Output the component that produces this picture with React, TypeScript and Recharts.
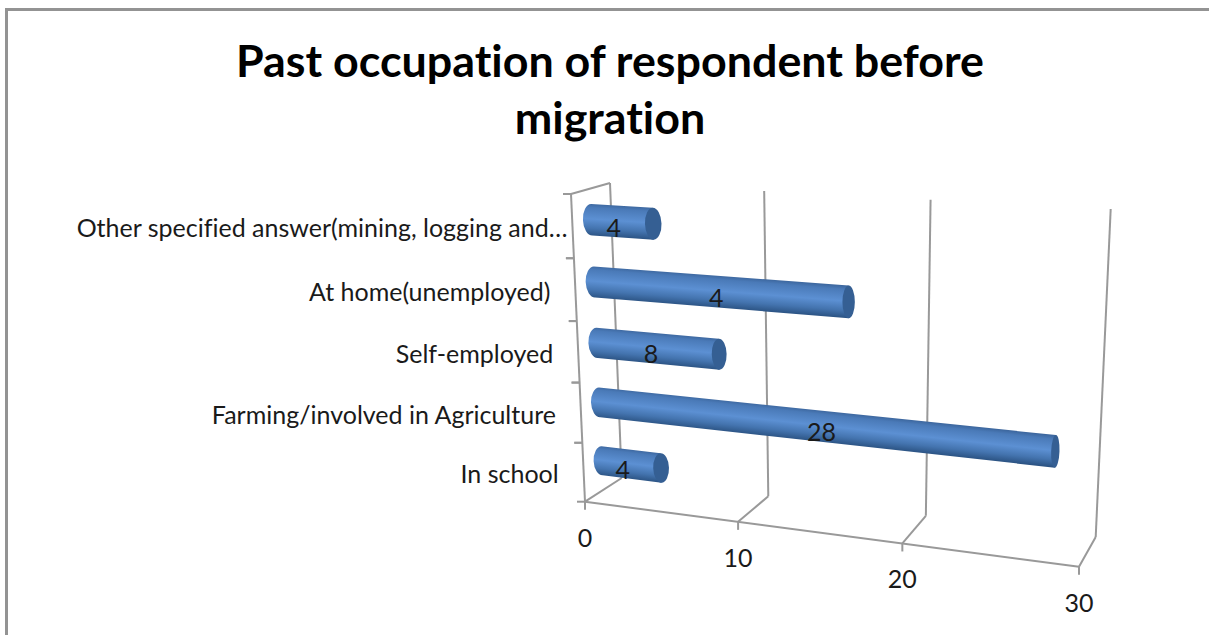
import { BarChart, Bar, XAxis, YAxis, CartesianGrid, LabelList } from "recharts";

const categories = [
  "In school",
  "Farming/involved in Agriculture",
  "Self-employed",
  "At home(unemployed)",
  "Other specified answer(mining, logging and…",
];
const barValues = [4, 28, 8, 16, 4];
// the source picture prints 4 on the At home bar, kept as drawn
const barLabels = [4, 28, 8, 4, 4];
const valueTicks = [0, 10, 20, 30];

const data = categories.map((name, i) => ({ name, value: barValues[i], label: barLabels[i] }));

const W = 1209;
const H = 635;
const FONT = "Lato, 'Open Sans', sans-serif";
const LINE = "#999999";

// plot rectangle the library scales work in, later folded into the 3D box
const LEFT = 585;
const TOP = 194;
const PLOT_W = 495;
const PLOT_H = 308;

type P = [number, number];

// corners: value 0 top, value 30 top, value 30 bottom, value 0 bottom
const FRONT: P[] = [[571, 194], [1094, 226], [1079, 566.7], [585, 501.7]];
const BACK: P[] = [[610, 183], [1110.7, 209], [1095.7, 537], [621.7, 478]];

function homography(q: P[]) {
  const [[x0, y0], [x1, y1], [x2, y2], [x3, y3]] = q;
  const dx1 = x1 - x2, dx2 = x3 - x2, sx = x0 - x1 + x2 - x3;
  const dy1 = y1 - y2, dy2 = y3 - y2, sy = y0 - y1 + y2 - y3;
  const den = dx1 * dy2 - dx2 * dy1;
  const g = (sx * dy2 - dx2 * sy) / den;
  const h = (dx1 * sy - sx * dy1) / den;
  return (u: number, v: number): P => {
    const w = g * u + h * v + 1;
    return [
      ((x1 - x0 + g * x1) * u + (x3 - x0 + h * x3) * v + x0) / w,
      ((y1 - y0 + g * y1) * u + (y3 - y0 + h * y3) * v + y0) / w,
    ];
  };
}

const frontMap = homography(FRONT);
const backMap = homography(BACK);

// px, py are chart pixels from the recharts scales, depth 0 = front, 1 = back
function project(px: number, py: number, depth: number): P {
  const u = (px - LEFT) / PLOT_W;
  const v = (py - TOP) / PLOT_H;
  const f = frontMap(u, v);
  const b = backMap(u, v);
  return [f[0] + (b[0] - f[0]) * depth, f[1] + (b[1] - f[1]) * depth];
}

function seg(a: P, b: P) {
  return <line x1={a[0]} y1={a[1]} x2={b[0]} y2={b[1]} stroke={LINE} strokeWidth={2} />;
}

function wallLine(props: any) {
  const x = props.x1;
  const bottom = TOP + PLOT_H;
  return (
    <g key={`wall-${x}`}>
      {seg(project(x, bottom, 0), project(x, bottom, 1))}
      {seg(project(x, bottom, 1), project(x, TOP, 1))}
    </g>
  );
}

function CylinderBar(props: any) {
  const { x, y, width, height, index } = props;
  const ym = y + height / 2;
  const tl = project(x, y, 0.5);
  const bl = project(x, y + height, 0.5);
  const tr = project(x + width, y, 0.5);
  const br = project(x + width, y + height, 0.5);
  const radius = (px: number) => {
    const f = project(px, ym, 0);
    const b = project(px, ym, 1);
    return Math.abs(b[0] - f[0]) * 0.23;
  };
  const rot = (a: P, b: P) => (Math.atan2(b[1] - a[1], b[0] - a[0]) * 180) / Math.PI - 90;
  const dist = (a: P, b: P) => Math.hypot(b[0] - a[0], b[1] - a[1]);
  const id = `cyl-${index}`;
  const startC: P = [(tl[0] + bl[0]) / 2, (tl[1] + bl[1]) / 2];
  const endC: P = [(tr[0] + br[0]) / 2, (tr[1] + br[1]) / 2];
  const rx0 = radius(x);
  const rx1 = radius(x + width);
  const ry0 = dist(tl, bl) / 2;
  const ry1 = dist(tr, br) / 2;
  // shading runs across the cylinder, square to its own axis
  const len = dist(startC, endC);
  const nx = -(endC[1] - startC[1]) / len;
  const ny = (endC[0] - startC[0]) / len;
  const half = (ry0 + ry1) / 2 + 1;
  const cx = (startC[0] + endC[0]) / 2;
  const cy = (startC[1] + endC[1]) / 2;
  return (
    <g>
      <defs>
        <linearGradient
          id={id}
          gradientUnits="userSpaceOnUse"
          x1={cx - nx * half}
          y1={cy - ny * half}
          x2={cx + nx * half}
          y2={cy + ny * half}
        >
          <stop offset="0" stopColor="#3a6399" />
          <stop offset="0.14" stopColor="#4a7ab8" />
          <stop offset="0.48" stopColor="#5c90d3" />
          <stop offset="0.75" stopColor="#4474af" />
          <stop offset="1" stopColor="#29507f" />
        </linearGradient>
      </defs>
      <path
        d={`M${tl[0]},${tl[1]} L${tr[0]},${tr[1]} L${br[0]},${br[1]} L${bl[0]},${bl[1]} A${rx0},${ry0} ${rot(tl, bl)} 0 1 ${tl[0]},${tl[1]} Z`}
        fill={`url(#${id})`}
      />
      <ellipse
        cx={endC[0]}
        cy={endC[1]}
        rx={rx1}
        ry={ry1}
        transform={`rotate(${rot(tr, br)} ${endC[0]} ${endC[1]})`}
        fill="#355f93"
      />
    </g>
  );
}

function BarText(props: any) {
  const { x, y, width, height, value } = props;
  const c = project(x + width / 2, y + height / 2, 0.5);
  return (
    <text x={c[0] + width * 0.036 - 11} y={c[1] + 15} textAnchor="middle" fontFamily={FONT} fontSize={25} fill="#1a1a1a">
      {value}
    </text>
  );
}

function ValueTick(props: any) {
  const { x, payload } = props;
  const bottom = TOP + PLOT_H;
  const p = project(x, bottom, 0);
  return (
    <g>
      {payload.value === 0 && seg(project(LEFT, bottom, 0), project(LEFT + PLOT_W, bottom, 0))}
      {seg(p, [p[0], p[1] + 8])}
      <text x={p[0]} y={p[1] + 45} textAnchor="middle" fontFamily={FONT} fontSize={25} fill="#1a1a1a">
        {payload.value}
      </text>
    </g>
  );
}

function CategoryTick(props: any) {
  const { y, payload, index } = props;
  const band = PLOT_H / categories.length;
  const low = project(LEFT, y + band / 2, 0);
  const high = project(LEFT, y - band / 2, 0);
  const mid = project(LEFT, y, 0);
  const trimmed = String(payload.value).endsWith("…");
  return (
    <g>
      {index === 0 && (
        <g>
          {seg(project(LEFT, TOP, 0), project(LEFT, TOP + PLOT_H, 0))}
          {seg(project(LEFT, TOP, 0), project(LEFT, TOP, 1))}
        </g>
      )}
      {seg([low[0] - 8, low[1]], low)}
      {seg([high[0] - 8, high[1]], high)}
      <text
        x={mid[0] - (trimmed ? 5 : 25)}
        y={mid[1] + 11}
        textAnchor="end"
        fontFamily={FONT}
        fontSize={25}
        fill="#1a1a1a"
        style={{ fontVariantLigatures: "none" }}
      >
        {payload.value}
      </text>
    </g>
  );
}

const titleStyle: React.CSSProperties = {
  position: "absolute",
  left: 6,
  top: 32,
  width: 1208,
  textAlign: "center",
  fontFamily: FONT,
  fontWeight: 700,
  fontSize: 44.8,
  lineHeight: "57px",
  color: "#000",
  fontVariantLigatures: "none",
};

export default function App() {
  return (
    <div style={{ position: "absolute", left: 0, top: 0, width: W, height: H, overflow: "hidden", background: "#fff" }}>
      {/* the frame is cut off by the picture on the right and at the bottom */}
      <div
        style={{
          position: "absolute",
          left: 5,
          top: 8,
          width: 1300,
          height: 700,
          border: "3px solid #939393",
          boxSizing: "border-box",
        }}
      />
      <div style={titleStyle}>
        Past occupation of respondent before
        <br />
        migration
      </div>
      <div style={{ position: "absolute", left: 0, top: 0 }}>
        <BarChart
          width={W}
          height={H}
          data={data}
          layout="vertical"
          margin={{ left: 0, top: TOP, right: W - LEFT - PLOT_W, bottom: 0 }}
          barSize={31}
        >
          <CartesianGrid horizontal={false} vertical={wallLine} />
          <XAxis
            type="number"
            domain={[0, 30]}
            ticks={valueTicks}
            axisLine={false}
            tickLine={false}
            tick={ValueTick}
            height={H - TOP - PLOT_H}
          />
          <YAxis
            type="category"
            dataKey="name"
            reversed
            axisLine={false}
            tickLine={false}
            tick={CategoryTick}
            width={LEFT}
            interval={0}
          />
          <Bar dataKey="value" shape={CylinderBar} isAnimationActive={false}>
            <LabelList dataKey="label" content={BarText} />
          </Bar>
        </BarChart>
      </div>
    </div>
  );
}
